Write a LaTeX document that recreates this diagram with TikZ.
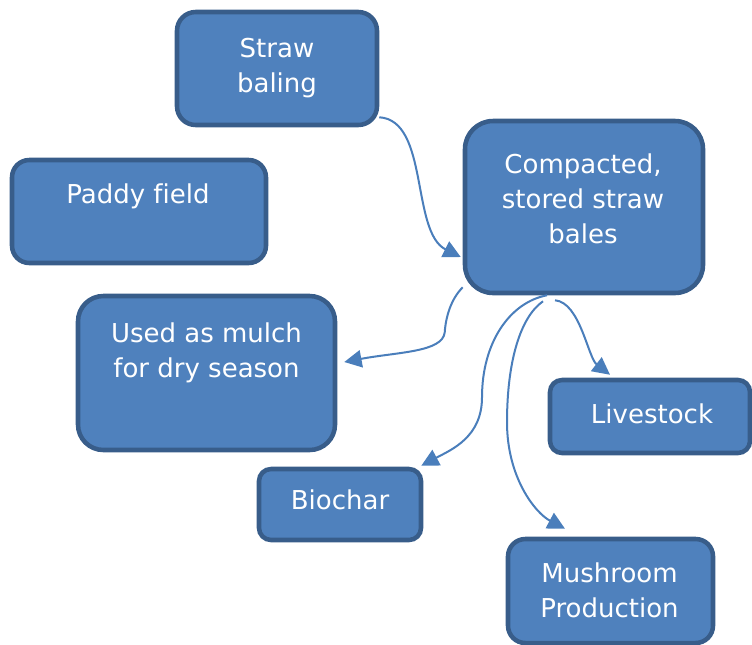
\documentclass[tikz,border=0pt]{standalone}
\usepackage{fontspec}
\setmainfont{DejaVu Sans}[Ligatures=NoCommon]
\usetikzlibrary{arrows.meta,calc}

\definecolor{boxfill}{HTML}{4F81BD}
\definecolor{boxline}{HTML}{385D8A}
\definecolor{linkline}{HTML}{4A7EBB}

% stacked, centred lines whose baseline is the first line
\newcommand{\stackedlines}[1]{\begin{tabular}[t]{@{}c@{}}#1\end{tabular}}

\begin{document}
\begin{tikzpicture}[x=0.75pt,y=-0.75pt,
  stage/.style={draw=boxline, fill=boxfill, line width=3.4pt, rectangle, inner sep=0pt},
  caption/.style={anchor=base, inner sep=0pt, text=white,
    font=\fontsize{19.5pt}{26.25pt}\selectfont},
  link/.style={draw=linkline, line width=1.5pt,
    -{Triangle[length=13pt,width=13pt]}}]

\useasboundingbox (0,0) rectangle (752,644);

% boxes
\node[stage, minimum width=150pt, minimum height=84.75pt, rounded corners=14pt]
  (baling) at (277,68.5) {};
\node[stage, minimum width=190.5pt, minimum height=77.25pt, rounded corners=13pt]
  (paddy) at (139,211.5) {};
\node[stage, minimum width=178.5pt, minimum height=129pt, rounded corners=21pt]
  (stored) at (584,207) {};
\node[stage, minimum width=192.75pt, minimum height=115.5pt, rounded corners=19pt]
  (mulch) at (206.5,373) {};
\node[stage, minimum width=150pt, minimum height=54.75pt, rounded corners=9pt]
  (livestock) at (650,416.5) {};
\node[stage, minimum width=121.5pt, minimum height=53.25pt, rounded corners=9pt]
  (biochar) at (340,504.5) {};
\node[stage, minimum width=153.75pt, minimum height=78pt, rounded corners=13pt]
  (mushroom) at (610.5,591) {};

% captions, set near the top of each box
\node[caption] (baling-text) at (277,57) {\stackedlines{Straw\\baling}};
\node[caption] (paddy-text) at (138,203) {Paddy field};
\node[caption] (stored-text) at (583,173) {\stackedlines{Compacted,\\stored straw\\bales}};
\node[caption] (mulch-text) at (206.5,342) {\stackedlines{Used as mulch\\for dry season}};
\node[caption] (livestock-text) at (652,423) {Livestock};
\node[caption] (biochar-text) at (340,509) {Biochar};
\node[caption] (mushroom-text) at (609.5,582) {\stackedlines{Mushroom\\Production}};

% bends of the longer connectors
\coordinate (mulch-bend) at ($(stored.south west)+(-18,37)$);
\coordinate (biochar-bend) at ($(stored.south)+(-102,102)$);
\coordinate (mushroom-bend) at ($(stored.south)+(-77,127)$);

% connectors
\draw[link] ($(baling.south east)+(0,-10)$)
  .. controls +(50,3) and +(-50,-25) .. ($(stored.west)+(-2,50)$);
\draw[link] ($(stored.south west)+(0,-8)$)
  .. controls +(-12,12) and +(1,-15) .. (mulch-bend)
  .. controls +(-2,20) and +(53,-10) .. ($(mulch.east)+(7,-11)$);
\draw[link] ($(stored.south)+(-37,0)$)
  .. controls +(-37,7) and +(0,-55) .. (biochar-bend)
  .. controls +(0,40) and +(30,-16) .. ($(biochar.north east)+(-2,-1)$);
\draw[link] ($(stored.south)+(-41,6)$)
  .. controls +(-23,16) and +(0,-60) .. (mushroom-bend)
  .. controls +(0,55) and +(-30,-16) .. ($(mushroom.north)+(-45.5,-8)$);
\draw[link] ($(stored.south)+(-29,5)$)
  .. controls +(25,2) and +(-22,-17) .. ($(livestock.north)+(-40,-3)$);

\end{tikzpicture}
\end{document}
